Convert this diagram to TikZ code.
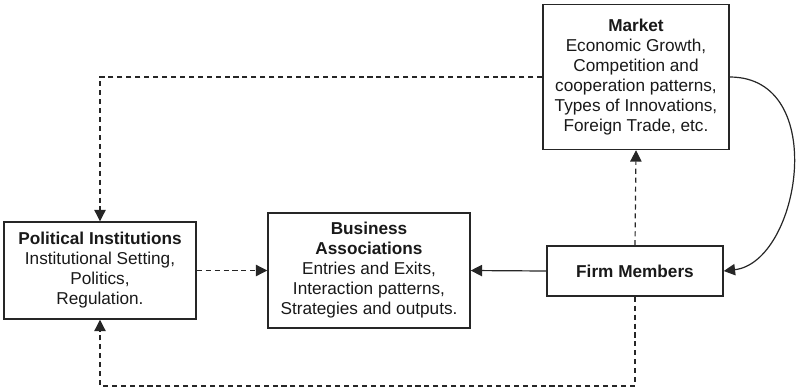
\documentclass[tikz,border=0pt]{standalone}
\usepackage{fontspec}
\setmainfont{Liberation Sans}
\usetikzlibrary{arrows.meta}
\begin{document}
\begin{tikzpicture}[x=0.75pt,y=-0.75pt,
  box/.style={draw=black!85, line width=1.1pt, inner sep=0pt, align=center,
    font=\fontsize{12.9}{15}\selectfont, text=black!90},
  link/.style={line width=0.9pt, draw=black!85, -{Triangle[length=8.5pt,width=8.5pt]}},
  dashlink/.style={link, dash pattern=on 3.8pt off 2.9pt}]
\useasboundingbox (0,0) rectangle (805,390);

\node[box, minimum width=139.5pt, minimum height=108.75pt] (market) at (636,77)
  {\textbf{Market}\\Economic Growth,\\Competition and\\cooperation patterns,\\Types of Innovations,\\Foreign Trade, etc.};
\node[box, minimum width=144pt, minimum height=72.75pt] (pol) at (100,270.5)
  {\textbf{Political Institutions}\\Institutional Setting,\\Politics,\\Regulation.};
\node[box, minimum width=151.5pt, minimum height=86.25pt] (bus) at (369,270.5)
  {\textbf{Business}\\\textbf{Associations}\\Entries and Exits,\\Interaction patterns,\\Strategies and outputs.};
\node[box, minimum width=132pt, minimum height=37.5pt] (firm) at (635,271)
  {\textbf{Firm Members}};

\coordinate (low) at (635,386);

% market feeds back to political institutions
\draw[dashlink] (market.west) -| (pol.north);
% firms act on politics
\draw[dashlink] (firm.south) -- (low) -| (pol.south);
% firms shape the market
\draw[dashlink] (firm.north) -- (market.south);
% institutions frame the associations
\draw[dashlink] (pol.east) -- (bus.west);
% firms join associations
\draw[link] (firm.west) -- (bus.east);
% market loops back onto firms
\draw[link] (market.east) .. controls (830,77) and (800,262) .. (firm.east);
\end{tikzpicture}
\end{document}
